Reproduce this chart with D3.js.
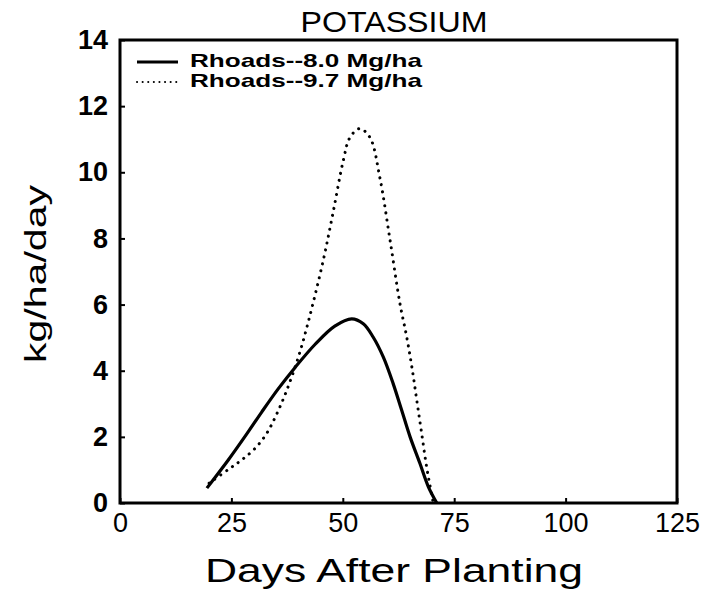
<!DOCTYPE html>
<html>
<head>
<meta charset="utf-8">
<script src="https://cdn.jsdelivr.net/npm/d3@7"></script>
<style>
  body { margin: 0; background: #fff; }
  svg { display: block; font-family: "Liberation Sans", Arial, sans-serif; }
</style>
</head>
<body>
<svg id="chart" width="722" height="594"></svg>
<script>
// values: [day, kg/ha/day]
const rhoads80 = [
  [19.5, 0.45], [24.3, 1.3], [28.1, 2.02], [31.8, 2.75], [35.5, 3.45],
  [39.3, 4.1], [43.8, 4.8], [48.2, 5.35], [52, 5.57], [54.6, 5.42],
  [56.8, 5.02], [59.1, 4.41], [61.3, 3.61], [63.2, 2.81], [65.1, 2.0],
  [67.3, 1.2], [69.2, 0.49], [71.1, 0]
]
const rhoads97 = [
  [20, 0.6], [24.7, 1.05], [27.3, 1.3], [30.3, 1.65], [32.9, 2.1],
  [35.2, 2.7], [37.4, 3.4], [40, 4.4], [42.3, 5.5], [45.6, 7.33],
  [47.9, 8.84], [50.1, 10.35], [51.6, 11.05], [53.8, 11.32], [56.1, 11.05],
  [58.3, 9.85], [60.6, 7.95], [62.8, 6.05], [64.3, 5.05], [65.5, 4.11],
  [66.6, 3.11], [67.7, 2.1], [68.8, 1.1], [69.6, 0.5], [70.3, 0]
]
const seriesNames = ['Rhoads--8.0 Mg/ha', 'Rhoads--9.7 Mg/ha']
const xTicks = [0, 25, 50, 75, 100, 125]
const yTicks = [0, 2, 4, 6, 8, 10, 12, 14]

const svg = d3.select('#chart')
const plotLeft = 120, plotRight = 677, plotTop = 40, plotBottom = 503

const x = d3.scaleLinear().domain([0, 125]).range([plotLeft, plotRight])
const y = d3.scaleLinear().domain([0, 14]).range([plotBottom, plotTop])

// ticks point inward, frame is drawn as a box
const xAxis = svg.append('g')
  .attr('transform', `translate(0,${plotBottom})`)
  .call(d3.axisBottom(x).tickValues(xTicks).tickSizeInner(-5).tickSizeOuter(0).tickPadding(10))
xAxis.select('.domain').remove()
xAxis.selectAll('text').attr('font-size', 27).attr('fill', '#000').style('font-family', 'Liberation Sans')
xAxis.selectAll('line').attr('stroke', '#000').attr('stroke-width', 2)

const yAxis = svg.append('g')
  .attr('transform', `translate(${plotLeft},0)`)
  .call(d3.axisLeft(y).tickValues(yTicks).tickSizeInner(-5).tickSizeOuter(0).tickPadding(12))
yAxis.select('.domain').remove()
yAxis.selectAll('text').attr('font-size', 27).attr('font-weight', 'bold').attr('fill', '#000').style('font-family', 'Liberation Sans')
yAxis.selectAll('line').attr('stroke', '#000').attr('stroke-width', 2)

svg.append('rect')
  .attr('x', plotLeft).attr('y', plotTop)
  .attr('width', plotRight - plotLeft).attr('height', plotBottom - plotTop)
  .attr('fill', 'none').attr('stroke', '#000').attr('stroke-width', 3)

const line = d3.line()
  .x(d => x(d[0]))
  .y(d => y(d[1]))
  .curve(d3.curveCatmullRom)

svg.append('path')
  .datum(rhoads80)
  .attr('d', line)
  .attr('fill', 'none').attr('stroke', '#000').attr('stroke-width', 3.2)
  .attr('stroke-linejoin', 'round')

svg.append('path')
  .datum(rhoads97)
  .attr('d', line)
  .attr('fill', 'none').attr('stroke', '#000').attr('stroke-width', 3)
  .attr('stroke-linecap', 'round').attr('stroke-dasharray', '0.1 7')

// legend
const legend = svg.append('g')
seriesNames.forEach((name, i) => {
  const ly = 62 + i * 20
  legend.append('line')
    .attr('x1', 137).attr('x2', 178).attr('y1', ly).attr('y2', ly)
    .attr('stroke', '#000')
    .attr('stroke-width', i === 0 ? 3.2 : 2)
    .attr('stroke-linecap', i === 0 ? 'butt' : 'round')
    .attr('stroke-dasharray', i === 0 ? null : '0.1 5.5')
  legend.append('text')
    .attr('x', 190).attr('y', ly + 5)
    .attr('font-size', 19).attr('font-weight', 'bold')
    .attr('textLength', 232).attr('lengthAdjust', 'spacingAndGlyphs')
    .text(name)
})

svg.append('text')
  .attr('x', 394).attr('y', 32)
  .attr('text-anchor', 'middle')
  .attr('font-size', 30)
  .attr('textLength', 187).attr('lengthAdjust', 'spacingAndGlyphs')
  .text('POTASSIUM')

svg.append('text')
  .attr('x', 394).attr('y', 582)
  .attr('text-anchor', 'middle')
  .attr('font-size', 34)
  .attr('textLength', 378).attr('lengthAdjust', 'spacingAndGlyphs')
  .text('Days After Planting')

svg.append('text')
  .attr('transform', 'translate(46,274) rotate(-90)')
  .attr('text-anchor', 'middle')
  .attr('font-size', 29)
  .attr('textLength', 178).attr('lengthAdjust', 'spacingAndGlyphs')
  .text('kg/ha/day')
</script>
</body>
</html>
